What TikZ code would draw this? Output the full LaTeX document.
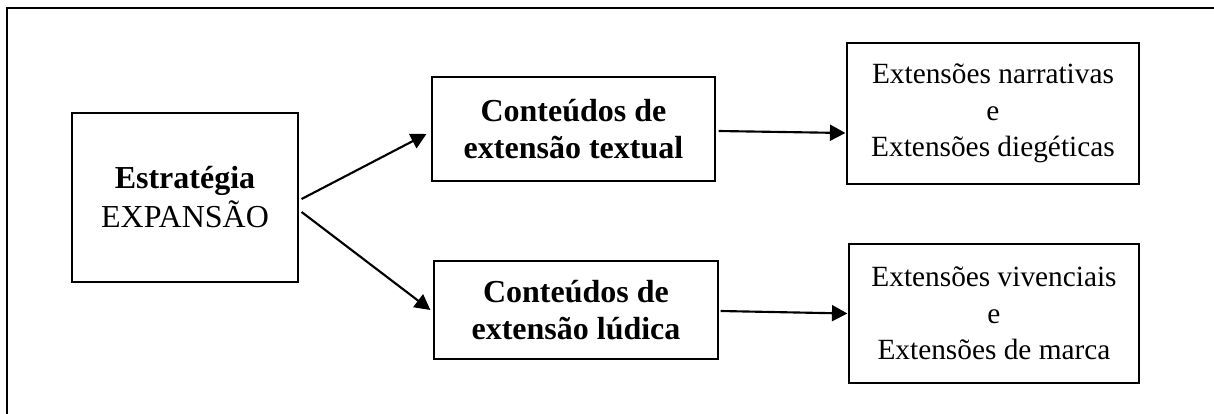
\documentclass[tikz,border=0pt]{standalone}
\usepackage{fontspec}
\setmainfont{Liberation Serif}
\usetikzlibrary{arrows.meta}
\tikzset{
    box/.style = {draw, line width=0.45pt, inner sep=0pt, align=center,
                  font = {\fontsize{12pt}{13.6pt}\selectfont}},
    smallbox/.style = {box, font = {\fontsize{11pt}{13.75pt}\selectfont}},
    link/.style = {line width=0.8pt, -{Triangle[length=5.8pt,width=6pt]}},
}
\begin{document}
\begin{tikzpicture}[x=0.375pt, y=-0.375pt]
    \useasboundingbox (0,0) rectangle (1214,414);
    \draw[line width=0.4pt] (7,414) -- (7,8) -- (1214,8);
    \node[box, minimum width=84.75pt, minimum height=63.4pt] (estr) at (185,197.5)
            {\textbf{Estratégia}\\[1pt]EXPANSÃO};
    \node[box, minimum width=106.1pt, minimum height=39pt] (textual) at (573.5,129)
            {\textbf{Conteúdos de}\\\textbf{extensão textual}};
    \node[box, minimum width=106.5pt, minimum height=36.75pt] (ludica) at (576,310)
            {\textbf{Conteúdos de}\\\textbf{extensão lúdica}};
    \node[smallbox, minimum width=109.5pt, minimum height=52.9pt] (narr) at (993,113.5)
            {Extensões narrativas\\e\\Extensões diegéticas};
    \node[smallbox, minimum width=108.75pt, minimum height=52.1pt] (viv) at (994,313.5)
            {Extensões vivenciais\\e\\Extensões de marca};
    \draw[link] ([shift={(3,1.5)}]estr.east) -- ([shift={(-5,5)}]textual.west);
    \draw[link] ([shift={(3,14.5)}]estr.east) -- ([shift={(-3,0)}]ludica.west);
    \draw[link] ([shift={(3,2)}]textual.east) -- ([shift={(-1,19.5)}]narr.west);
    \draw[link] ([shift={(2,1)}]ludica.east) -- ([shift={(-1,0)}]viv.west);
\end{tikzpicture}
\end{document}
